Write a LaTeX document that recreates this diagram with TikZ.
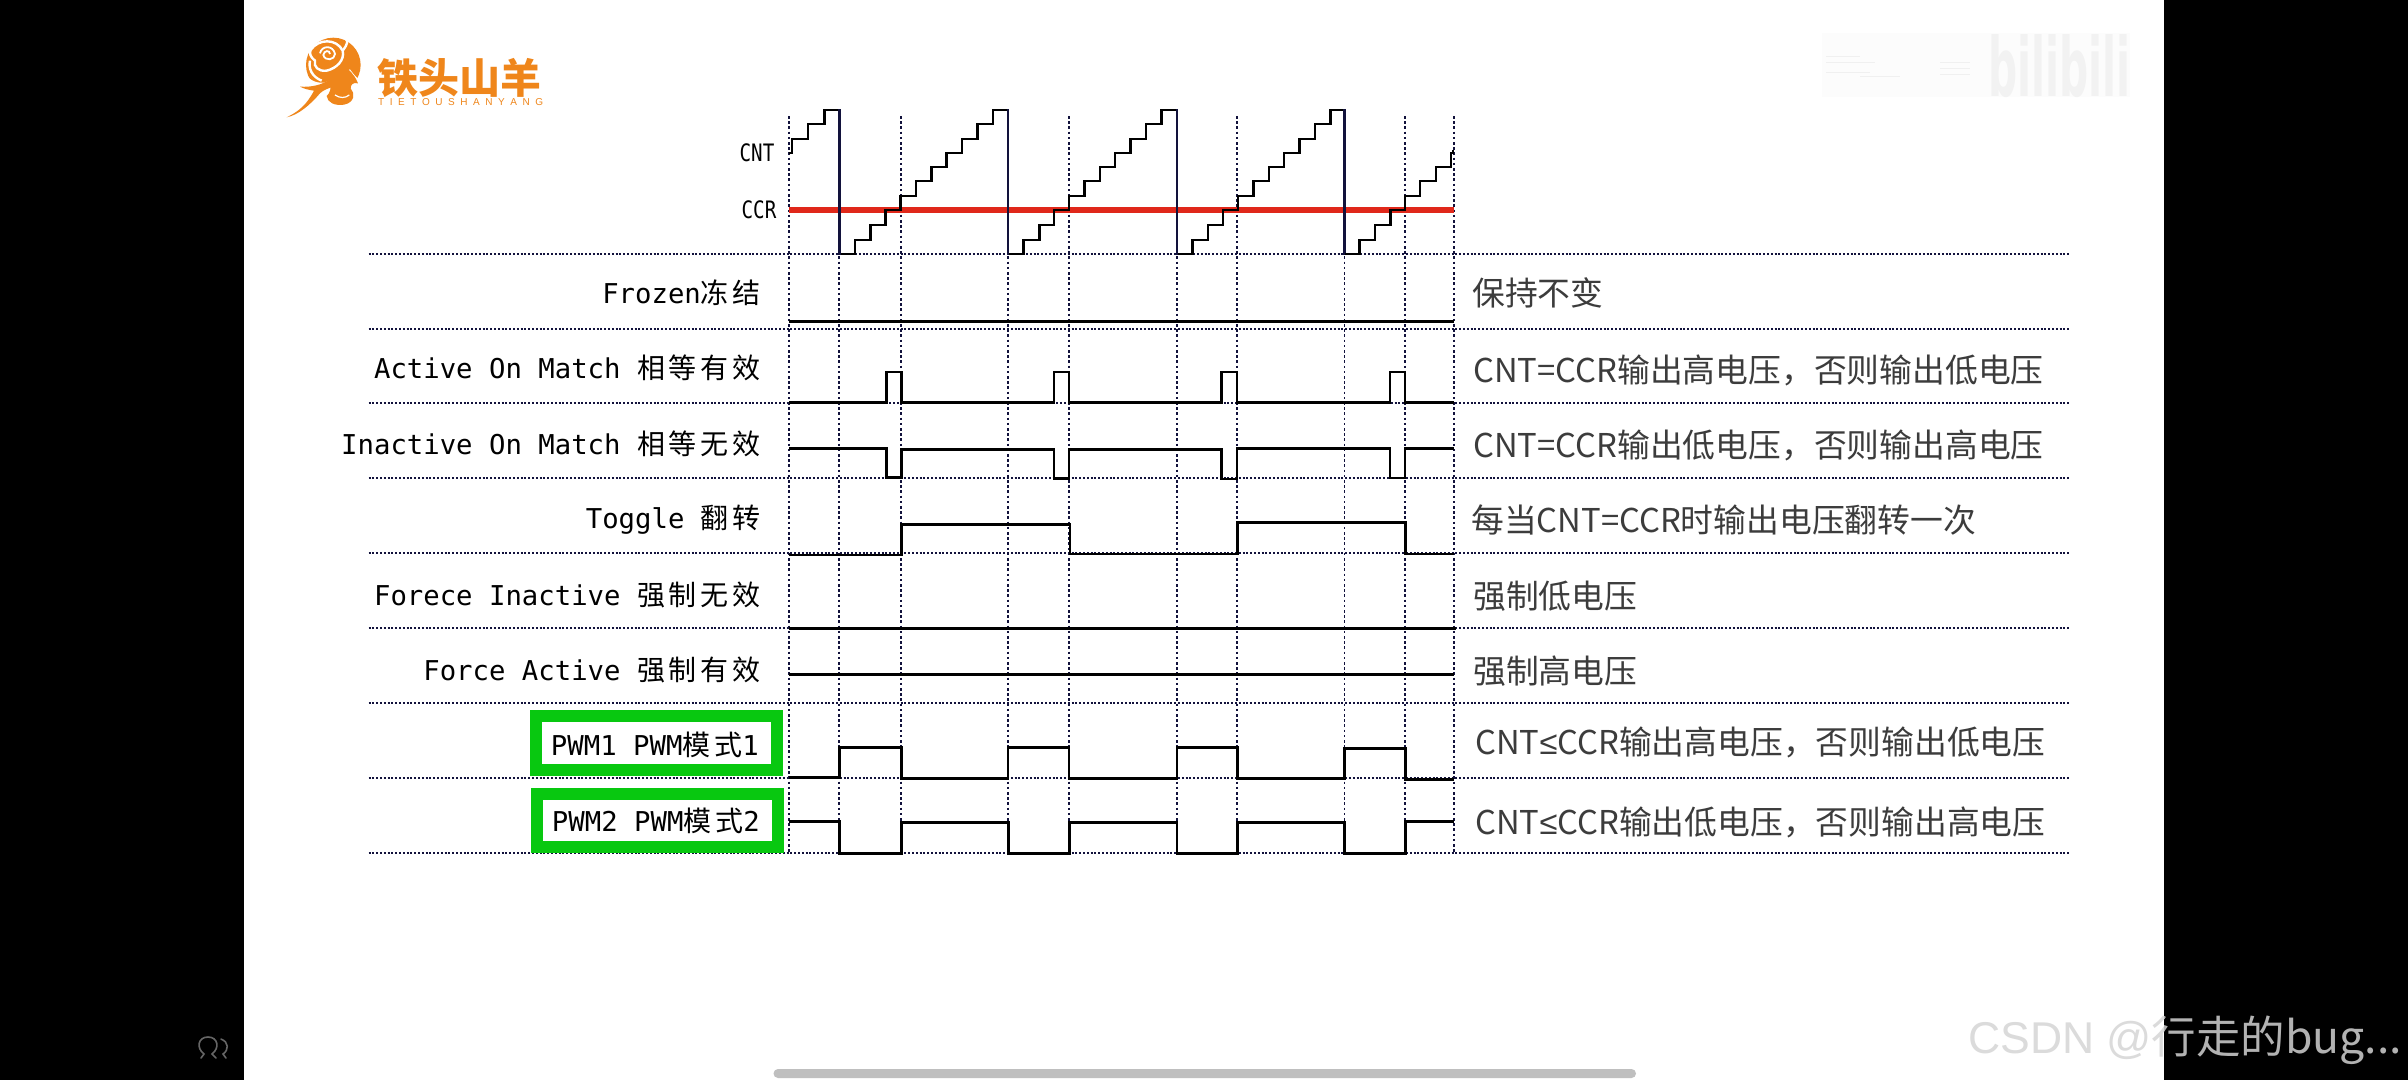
\documentclass[tikz,border=0pt]{standalone}
\usepackage{graphicx}
\usepackage{fontspec}
\setmainfont{Liberation Sans}
\newfontfamily\monof{DejaVu Sans Mono}
\newfontfamily\cjkl[LetterSpace=14]{Noto Sans CJK SC}
\newfontfamily\cjkr{Noto Sans CJK SC}
\newfontfamily\libf{Liberation Sans}
\definecolor{navy}{HTML}{12123C}
\definecolor{redl}{HTML}{E0281A}
\definecolor{grn}{HTML}{08C810}
\definecolor{orng}{HTML}{EF861B}
\definecolor{txtg}{HTML}{3C3C3C}
\newcommand\LL[2]{{\fontsize{27.3}{30}\monof #1}{\fontsize{28}{30}\cjkl #2}}
\tikzset{
  x=1pt,y=-1pt,
  gridh/.style={navy,line width=1.6pt,dash pattern=on 2pt off 1.8pt},
  gridv/.style={navy,line width=1.8pt,dash pattern=on 2.6pt off 2.6pt},
  sig/.style={black,line width=2.6pt,line join=miter,line cap=butt},
  drop/.style={navy,line width=2.4pt},
  leftlbl/.style={anchor=east,inner sep=0pt,text=black},
  rightlbl/.style={anchor=west,inner sep=0pt,text=txtg,font=\fontsize{32.8}{36}\cjkr},
  tiny/.style={inner sep=0pt,text=black,font=\fontsize{24}{28}\monof,xscale=0.8},
  greenbox/.style={draw=grn,line width=12pt,fill=white,line join=miter},
}
\newcommand\Saw[1]{%
  \draw[sig] (#1,254)--({#1+15.6},254)--({#1+15.6},240)--({#1+31.2},240)--({#1+31.2},225)--({#1+46},225)--({#1+46},210)--({#1+61},210)--({#1+61},196)--({#1+76.5},196)--({#1+76.5},181)--({#1+92},181)--({#1+92},167)--({#1+107},167)--({#1+107},153)--({#1+122.6},153)--({#1+122.6},139)--({#1+138},139)--({#1+138},124)--({#1+153.4},124)--({#1+153.4},110)--({#1+168.6},110);
  \draw[drop] (#1,109)--(#1,255);}
\begin{document}
\begin{tikzpicture}
\useasboundingbox (0,0) rectangle (2408,1080);
\fill[black] (0,0) rectangle (2408,1080);
\fill[white] (243.5,0) rectangle (2164,1080);
% bilibili watermark
\fill[black!1] (1822,33) rectangle (2130,97);
\node[inner sep=0pt,text=black!5] (bili) at (2059,66) {\resizebox{142pt}{62pt}{\fontspec{DejaVu Sans}\bfseries bilibili}};
\foreach \y/\a/\b in {56/1826/1860,62/1826/1875,72/1826/1870,76/1860/1900,76/1882/1895,62/1940/1970,68/1940/1970,74/1940/1970}
  \draw[black!6,line width=1pt] (\a,\y)--(\b,\y);
% logo
\begin{scope}[shift={(280,30)},x=0.3333pt,y=-0.3333pt]
  \fill[orng] (160,105) circle[radius=82];
  \fill[white] (72,122) .. controls (82,148) and (105,160) .. (132,158) .. controls (160,150) and (180,130) .. (210,118) .. controls (225,140) and (240,150) .. (245,160) -- (250,240) -- (60,240) -- (60,165) .. controls (62,150) and (65,135) .. (72,122) -- cycle;
  % tail
  \fill[orng] (20,262) .. controls (55,245) and (80,225) .. (102,182) .. controls (85,180) and (72,176) .. (60,170) .. controls (95,172) and (125,165) .. (150,148) -- (160,170) .. controls (145,175) and (130,180) .. (120,190) .. controls (90,225) and (55,255) .. (20,262) -- cycle;
  % lower blob
  \fill[orng] (150,148) .. controls (170,135) and (185,125) .. (205,118) .. controls (222,135) and (228,145) .. (234,160) .. controls (218,156) and (212,165) .. (212,175) .. controls (226,190) and (224,218) .. (192,224) .. controls (165,228) and (142,218) .. (140,198) .. controls (150,190) and (155,175) .. (150,148) -- cycle;
  \draw[white,line width=1.2pt] (165,195) .. controls (180,205) and (195,205) .. (208,195);
  \draw[white,line width=2.4pt] (92,60) .. controls (115,25) and (170,25) .. (188,62) .. controls (195,90) and (170,115) .. (140,122) .. controls (115,125) and (100,110) .. (105,92) .. controls (90,80) and (88,70) .. (92,60) -- cycle;
  \draw[white,line width=1.8pt] (120,70) .. controls (125,45) and (160,45) .. (165,72) .. controls (165,90) and (135,95) .. (130,75) .. controls (132,60) and (150,60) .. (150,72);
  \draw[white,line width=2.4pt] (188,62) .. controls (205,40) and (205,30) .. (195,25);
  \draw[white,line width=2.4pt] (90,92) .. controls (85,115) and (95,140) .. (125,152);
\end{scope}
\node[inner sep=0pt,text=orng,anchor=west,font=\fontsize{41}{44}\cjkr\bfseries] (logotxt) at (377,78) {铁头山羊};
\node[inner sep=0pt,text=orng,anchor=west,font=\fontsize{10}{12}\selectfont] (logosub) at (378,102) {\makebox[165pt][s]{T\hfil I\hfil E\hfil T\hfil O\hfil U\hfil S\hfil H\hfil A\hfil N\hfil Y\hfil A\hfil N\hfil G}};
% grid
\foreach \y in {254,329,403,478,553,628,703,778,853}
  \draw[gridh] (368.6,\y)--(2070,\y);
\foreach \x in {789,839,901,1008,1069,1177,1237,1344.5,1405,1454}
  \draw[gridv] (\x,116)--(\x,853);
% green boxes
\draw[greenbox] (536,716) rectangle (777.3,770);
\draw[greenbox] (537,794) rectangle (778.3,847.3);
% CCR line
\draw[redl,line width=6pt] (789,210)--(1454,210);
% CNT
\draw[sig] (789,153)--(792,153)--(792,139)--(808,139)--(808,124)--(824.3,124)--(824.3,110)--(839.4,110);
\Saw{839.4}
\Saw{1008}
\Saw{1176.9}
\draw[drop] (1344.5,109)--(1344.5,255);
\draw[sig] (1344.5,254)--(1359.6,254)--(1359.6,240)--(1375,240)--(1375,225)--(1390.4,225)--(1390.4,210)--(1405,210)--(1405,196)--(1420,196)--(1420,181)--(1436,181)--(1436,167)--(1451,167)--(1451,153)--(1453,153)--(1453,150);
% signals
\draw[sig,line width=3pt] (789,321)--(1454,321);
\draw[sig] (789,402.5)--(886.3,402.5)--(886.3,372)--(901.4,372)--(901.4,402.5)--(1053.8,402.5)--(1053.8,372)--(1069,372)--(1069,402.5)--(1221.4,402.5)--(1221.4,372)--(1237,372)--(1237,402.5)--(1390,402.5)--(1390,372)--(1405,372)--(1405,402.5)--(1454,402.5);
\draw[sig] (789,448.7)--(886.3,448.7)--(886.3,477.7)--(901.4,477.7)--(901.4,449.3)--(1053.8,449.3)--(1053.8,478.7)--(1069,478.7)--(1069,449.3)--(1221.4,449.3)--(1221.4,479)--(1237,479)--(1237,448.7)--(1390,448.7)--(1390,478)--(1405,478)--(1405,448.7)--(1454,448.7);
\draw[sig] (789,555)--(901.4,555)--(901.4,524.3)--(1070,524.3)--(1070,554)--(1237.5,554)--(1237.5,522.7)--(1405.5,522.7)--(1405.5,554)--(1454,554);
\draw[sig] (789,628.3)--(1456,628.3);
\draw[sig] (789,674.3)--(1454,674.3);
\draw[sig] (789,777.3)--(839.4,777.3)--(839.4,747.7)--(901.4,747.7)--(901.4,778.3)--(1008,778.3)--(1008,747.7)--(1069,747.7)--(1069,778.3)--(1177,778.3)--(1177,747.7)--(1237.5,747.7)--(1237.5,778.3)--(1344.5,778.3)--(1344.5,748.3)--(1405.5,748.3)--(1405.5,779.3)--(1454,779.3);
\draw[sig] (789,821.7)--(839.4,821.7)--(839.4,853.3)--(901.4,853.3)--(901.4,822.3)--(1008.4,822.3)--(1008.4,853.3)--(1069.5,853.3)--(1069.5,822.3)--(1177,822.3)--(1177,853.3)--(1237.5,853.3)--(1237.5,822.3)--(1344.5,822.3)--(1344.5,853.3)--(1405.5,853.3)--(1405.5,821.7)--(1454,821.7);
% left labels
\node[tiny] (cnt) at (757,153) {CNT};
\node[tiny] (ccr) at (759,210) {CCR};
\node[leftlbl] (l1) at (761,293) {\LL{Frozen}{冻结}};
\node[leftlbl] (l2) at (761,368) {\LL{Active On Match~}{相等有效}};
\node[leftlbl] (l3) at (761,444) {\LL{Inactive On Match~}{相等无效}};
\node[leftlbl] (l4) at (761,520) {\LL{Toggle~}{翻转}};
\node[leftlbl] (l5) at (761,595) {\LL{Forece Inactive~}{强制无效}};
\node[leftlbl] (l6) at (761,670) {\LL{Force Active~}{强制有效}};
\node[leftlbl] (l7) at (759,745) {\LL{PWM1 PWM}{模式}{\fontsize{27.3}{30}\monof 1}};
\node[leftlbl] (l8) at (760,821) {\LL{PWM2 PWM}{模式}{\fontsize{27.3}{30}\monof 2}};
% right labels
\node[rightlbl] (r1) at (1472,293) {保持不变};
\node[rightlbl] (r2) at (1473,370) {CNT=CCR输出高电压，否则输出低电压};
\node[rightlbl] (r3) at (1473,445) {CNT=CCR输出低电压，否则输出高电压};
\node[rightlbl] (r4) at (1471,520) {每当CNT=CCR时输出电压翻转一次};
\node[rightlbl] (r5) at (1473,596) {强制低电压};
\node[rightlbl] (r6) at (1473,671) {强制高电压};
\node[rightlbl] (r7) at (1475,742) {CNT{\libf ≤}CCR输出高电压，否则输出低电压};
\node[rightlbl] (r8) at (1475,822) {CNT{\libf ≤}CCR输出低电压，否则输出高电压};
% bottom bar
\fill[black!25,rounded corners=4.5pt] (773.5,1069) rectangle (1636,1078);
% icon
\draw[black!60,line width=1.6pt,line cap=round] (201,1058)--(204,1054) .. controls (196,1048) and (198,1037) .. (208,1037) .. controls (218,1037) and (220,1048) .. (212,1054)--(216,1058);
\draw[black!60,line width=1.6pt,line cap=round] (221,1039) .. controls (229,1042) and (229,1050) .. (223,1054)--(226,1058);
% CSDN watermark
\begin{scope}
  \clip (243.5,1000) rectangle (2164,1080);
  \node[anchor=west,inner sep=0pt,text=black!14,font=\fontsize{44.5}{48}\selectfont] (wma) at (1968,1040) {CSDN @{\cjkr 行走的bug...}};
\end{scope}
\begin{scope}
  \clip (2164,1000) rectangle (2408,1080);
  \node[anchor=west,inner sep=0pt,text=black!30,font=\fontsize{44.5}{48}\selectfont] (wmb) at (1968,1040) {CSDN @{\cjkr 行走的bug...}};
\end{scope}
\end{tikzpicture}
\end{document}
